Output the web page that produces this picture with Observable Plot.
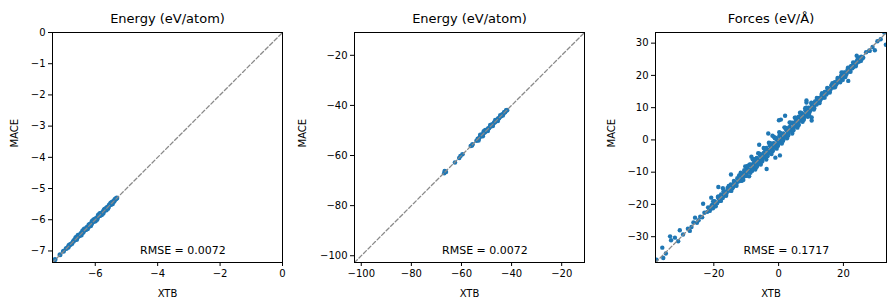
<!DOCTYPE html>
<html><head><meta charset="utf-8">
<script src="https://cdn.jsdelivr.net/npm/d3@7"></script>
<script src="https://cdn.jsdelivr.net/npm/@observablehq/plot@0.6"></script>
<style>
body{margin:0;background:#fff;}
#wrap{position:relative;width:896px;height:307px;background:#fff;}
#wrap svg{position:absolute;top:0;}
</style>
</head><body><div id="wrap"></div>
<script>
// ---------- data ----------
const panelTitles = ["Energy (eV/atom)", "Energy (eV/atom)", "Forces (eV/Å)"];
const rmseLabels = ["RMSE = 0.0072", "RMSE = 0.0072", "RMSE = 0.1717"];
const xLabel = "XTB";
const yLabel = "MACE";

const ticks1 = [-7, -6, -5, -4, -3, -2, -1, 0];
const xticks1 = [-6, -4, -2, 0];
const ticks2 = [-100, -80, -60, -40, -20];
const ticks3 = [-30, -20, -10, 0, 10, 20, 30];
const xticks3 = [-20, 0, 20];

const domain1 = [-7.37, 0];
const domain2 = [-102.7, -10.9];
const domain3 = [-38.0, 33.3];

// energy per atom (XTB, MACE)
const energyAtom = [
[-7.33,-7.34],[-7.29,-7.27],[-7.13,-7.12],[-7.02,-7.01],[-6.93,-6.92],[-6.87,-6.88],[-6.84,-6.82],[-6.80,-6.79],
[-6.75,-6.76],[-6.70,-6.69],[-6.66,-6.64],[-6.62,-6.57],[-6.60,-6.63],[-6.57,-6.55],[-6.53,-6.52],[-6.49,-6.50],
[-6.46,-6.44],[-6.42,-6.41],[-6.39,-6.40],[-6.36,-6.34],[-6.33,-6.32],[-6.30,-6.31],[-6.27,-6.25],[-6.24,-6.23],
[-6.21,-6.22],[-6.18,-6.16],[-6.15,-6.14],[-6.12,-6.13],[-6.09,-6.07],[-6.06,-6.05],[-6.03,-6.04],[-6.00,-5.98],
[-5.97,-5.96],[-5.94,-5.95],[-5.91,-5.89],[-5.88,-5.87],[-5.85,-5.86],[-5.82,-5.80],[-5.79,-5.78],[-5.76,-5.77],
[-5.73,-5.71],[-5.70,-5.69],[-5.67,-5.68],[-5.64,-5.62],[-5.61,-5.60],[-5.58,-5.59],[-5.55,-5.53],[-5.52,-5.51],
[-5.49,-5.50],[-5.46,-5.44],[-5.43,-5.42],[-5.40,-5.41],[-5.37,-5.35],[-5.34,-5.33],[-5.31,-5.30],
[-6.55,-6.50],[-6.45,-6.49],[-6.35,-6.30],[-6.25,-6.29],[-6.10,-6.05],[-6.00,-6.04],[-5.90,-5.85],[-5.80,-5.84],
[-5.70,-5.66],[-5.60,-5.64],[-6.20,-6.16],[-5.95,-5.99],[-6.40,-6.35],[-6.15,-6.19],[-5.85,-5.80],[-5.75,-5.79],
[-5.50,-5.46],[-5.45,-5.49],[-6.05,-6.00],[-5.65,-5.69]
];

// total energy (XTB, MACE)
const energyTotal = [
[-66.9,-67.1],[-66.5,-66.4],[-66.2,-66.6],[-66.7,-66.2],[-62.6,-62.8],[-60.9,-61.0],[-60.4,-60.2],[-59.6,-59.5],
[-56.3,-56.2],[-55.8,-56.0],[-55.6,-55.5],[-54.0,-54.1],[-53.5,-53.3],[-53.0,-53.2],[-52.6,-52.4],[-52.2,-52.3],
[-51.8,-51.6],[-51.4,-51.5],[-51.0,-50.8],[-50.6,-50.7],[-50.2,-50.0],[-49.8,-49.9],[-49.4,-49.2],[-49.0,-49.1],
[-48.6,-48.4],[-48.2,-48.3],[-47.8,-47.6],[-47.4,-47.5],[-47.0,-46.8],[-46.6,-46.7],[-46.2,-46.0],[-45.8,-45.9],
[-45.4,-45.2],[-45.0,-45.1],[-44.6,-44.4],[-44.2,-44.3],[-43.8,-43.6],[-43.4,-43.5],[-43.0,-42.8],[-42.6,-42.7],
[-42.2,-42.0],[-41.8,-41.9],
[-52.5,-51.7],[-51.5,-52.3],[-50.5,-49.8],[-49.5,-50.2],[-48.5,-47.8],[-47.5,-48.2],[-46.5,-45.8],[-45.5,-46.2],
[-44.5,-43.9],[-43.5,-44.0],[-53.2,-54.0],[-51.1,-50.3]
];

// forces (XTB, MACE)
const forces = [
// main band
[-22.0,-22.3],[-21.5,-21.2],[-21.0,-21.4],[-20.5,-20.1],[-20.0,-20.5],[-19.5,-19.3],[-19.0,-19.6],[-18.5,-18.1],
[-18.0,-18.4],[-17.5,-17.2],[-17.0,-17.5],[-16.5,-16.0],[-16.0,-16.4],[-15.5,-15.1],[-15.0,-15.6],[-14.5,-14.2],
[-14.0,-14.5],[-13.5,-13.0],[-13.0,-13.4],[-12.5,-12.1],[-12.0,-12.6],[-11.5,-11.0],[-11.0,-11.5],[-10.5,-10.0],
[-10.0,-10.6],[-9.5,-9.0],[-9.0,-9.5],[-8.5,-8.1],[-8.0,-8.6],[-7.5,-7.0],[-7.0,-7.4],[-6.5,-6.0],[-6.0,-6.6],
[-5.5,-5.0],[-5.0,-5.6],[-4.5,-4.0],[-4.0,-4.6],[-3.5,-3.0],[-3.0,-3.6],[-2.5,-2.0],[-2.0,-2.6],[-1.5,-1.0],
[-1.0,-1.6],[-0.5,0.0],[0.0,-0.5],[0.5,1.0],[1.0,0.4],[1.5,2.0],[2.0,1.5],[2.5,3.0],[3.0,2.4],[3.5,4.0],[4.0,3.5],
[4.5,5.0],[5.0,4.4],[5.5,6.0],[6.0,5.5],[6.5,7.0],[7.0,6.4],[7.5,8.0],[8.0,7.6],[8.5,9.0],[9.0,8.5],[9.5,9.9],
[10.0,9.6],[10.5,10.9],[11.0,10.6],[11.5,11.9],[12.0,11.6],[12.5,12.9],[13.0,12.6],[13.5,13.9],[14.0,13.6],
[14.5,14.9],[15.0,14.6],[15.5,15.9],[16.0,15.6],[16.5,16.9],[17.0,16.6],[17.5,17.9],[18.0,17.6],[18.5,18.9],
[19.0,18.6],[19.5,19.9],[20.0,19.6],[20.5,20.9],[21.0,20.5],[21.5,21.9],[22.0,21.6],[22.5,22.9],[23.0,22.5],
[23.5,23.9],[24.0,23.6],[24.5,24.9],[25.0,24.5],[25.5,25.8],[26.0,25.6],[27.0,27.2],[28.0,27.7],[29.0,28.8],
// in-between fill
[-21.75,-20.9],[-21.25,-22.0],[-20.75,-20.5],[-20.25,-21.2],[-19.75,-19.0],[-19.25,-19.7],[-18.75,-17.7],[-18.25,-18.9],
[-17.75,-16.9],[-17.25,-18.0],[-16.75,-16.4],[-16.25,-17.1],[-15.75,-14.9],[-15.25,-15.7],[-14.75,-13.8],[-14.25,-15.0],
[-13.75,-13.3],[-13.25,-14.1],[-12.75,-11.9],[-12.25,-12.8],[-11.75,-10.8],[-11.25,-12.0],[-10.75,-10.4],[-10.25,-11.2],
[-9.75,-8.8],[-9.25,-9.9],[-8.75,-7.6],[-8.25,-8.9],[-7.75,-7.2],[-7.25,-8.3],[-6.75,-5.6],[-6.25,-7.0],[-5.75,-4.7],
[-5.25,-6.1],[-4.75,-4.3],[-4.25,-5.4],[-3.75,-2.5],[-3.25,-4.1],[-2.75,-1.6],[-2.25,-3.0],[-1.75,-1.2],[-1.25,-2.4],
[-0.75,0.6],[-0.25,-1.1],[0.25,1.3],[0.75,-0.2],[1.25,1.8],[1.75,0.7],[2.25,3.4],[2.75,1.8],[3.25,3.9],[3.75,2.9],
[4.25,5.3],[4.75,4.0],[5.25,5.8],[5.75,4.8],[6.25,7.2],[6.75,6.0],[7.25,7.9],[7.75,7.0],[8.25,9.1],[8.75,8.0],
[9.25,10.0],[9.75,9.0],[10.25,11.0],[10.75,10.0],[11.25,11.9],[11.75,11.0],[12.25,12.9],[12.75,12.1],[13.25,13.9],
[13.75,13.1],[14.25,14.9],[14.75,14.1],[15.25,15.8],[15.75,15.2],[16.25,16.9],[16.75,16.2],[17.25,17.8],[17.75,17.1],
[18.25,18.8],[18.75,18.1],[19.25,19.8],[19.75,19.2],[20.25,20.8],[20.75,20.1],[21.25,21.7],[21.75,21.2],[22.25,22.8],
[22.75,22.2],[23.25,23.7],[23.75,23.2],[24.25,24.7],[24.75,24.2],[25.25,25.6],[25.75,25.2],
// wider band
[-20.2,-19.0],[-19.4,-20.6],[-18.6,-17.5],[-17.8,-18.9],[-17.0,-15.9],[-16.2,-17.3],[-15.4,-14.3],[-14.6,-15.8],
[-13.8,-12.7],[-13.0,-14.2],[-12.2,-11.0],[-11.4,-12.7],[-10.6,-9.4],[-9.8,-11.1],[-9.0,-7.7],[-8.2,-9.6],
[-7.4,-6.1],[-6.6,-8.0],[-5.8,-4.4],[-5.0,-6.5],[-4.2,-2.8],[-3.4,-4.9],[-2.6,-1.1],[-1.8,-3.3],[-1.0,0.5],
[-0.2,-1.7],[0.6,2.1],[1.4,-0.1],[2.2,3.7],[3.0,1.5],[3.8,5.2],[4.6,3.1],[5.4,6.8],[6.2,4.8],[7.0,8.3],[7.8,6.5],
[8.6,9.9],[9.4,8.2],[10.2,11.4],[11.0,9.8],[11.8,13.0],[12.6,11.4],[13.4,14.5],[14.2,13.1],[15.0,16.1],[15.8,14.7],
[16.6,17.6],[17.4,16.3],[18.2,19.2],[19.0,17.9],[19.8,20.8],[20.6,19.5],[21.4,22.4],[22.2,21.1],[23.0,24.0],
[23.8,22.8],[24.6,25.5],[25.4,24.5],
// thick middle
[-10.3,-8.2],[-9.1,-11.3],[-8.0,-6.0],[-7.2,-9.2],[-6.3,-4.1],[-5.5,-7.6],[-4.6,-2.5],[-3.8,-6.1],[-3.0,-0.9],
[-2.2,-4.4],[-1.4,0.9],[-0.6,-2.7],[0.2,2.4],[1.0,-1.1],[1.8,3.9],[2.6,0.5],[3.4,5.4],[4.2,2.0],[5.0,6.9],
[5.8,3.8],[6.6,8.4],[7.4,5.6],[8.2,9.8],[9.0,7.2],
[-11.7,-10.2],[-10.9,-12.4],[-9.6,-8.1],[-8.7,-10.2],[-7.6,-6.0],[-6.8,-8.4],[-5.9,-4.3],[-5.2,-6.8],[-4.3,-2.7],
[-3.5,-5.1],[-2.6,-1.0],[-1.9,-3.5],[-1.1,0.5],[-0.3,-1.9],[0.5,2.1],[1.3,-0.3],[2.1,3.7],[2.9,1.3],[3.7,5.3],
[4.5,2.9],[5.3,6.9],[6.1,4.5],[6.9,8.4],[7.7,6.2],[8.5,10.0],[9.3,7.8],[10.1,11.5],[10.9,9.4],
// sparse ends and outliers
[-37.7,-37.1],[-35.6,-36.6],[-35.9,-33.4],[-34.8,-35.2],[-33.5,-29.9],[-33.2,-31.1],[-32.0,-30.3],[-31.0,-31.4],
[-30.5,-28.0],[-29.5,-29.3],[-28.0,-27.5],[-27.4,-28.2],[-26.9,-27.0],[-26.3,-25.6],[-25.8,-24.1],[-25.2,-25.7],
[-24.7,-24.9],[-24.2,-23.8],[-23.6,-24.0],[-23.3,-19.8],[-22.9,-22.6],[-20.8,-17.9],[-18.6,-14.6],[-17.2,-15.0],
[-14.7,-10.7],[-8.4,-5.2],[-3.7,-9.0],[0.4,-4.8],[-1.0,-5.5],[0.7,6.3],[0.1,6.1],[-1.9,1.3],[-3.2,2.0],[-6.0,-1.5],
[2.0,7.5],[8.6,12.2],[8.6,11.6],[10.2,7.0],[10.2,6.0],[9.5,7.4],[19.4,20.9],[19.8,18.6],[21.5,18.3],[24.1,26.1],
[26.1,25.5],[28.1,27.6],[29.7,27.8],[30.5,30.6],[31.5,31.2],[32.6,33.3],[33.1,29.5]
];

// ---------- drawing ----------
const fmt = d3.format("d");
const blue = "#1f77b4";
const font = "DejaVu Sans";

function panel({data, domain, xticks, yticks, title, rmse, left, width, ml, mr, labelDx, r}) {
  const H = 307, mt = 32, mb = 45;
  const pts = data.map(([x, y]) => ({x, y}));
  const rmseX = domain[0] + 0.567 * (domain[1] - domain[0]);
  const svg = Plot.plot({
    width, height: H,
    marginLeft: ml, marginRight: mr, marginTop: mt, marginBottom: mb,
    style: {fontFamily: font, fontSize: "10px", background: "white", color: "black", overflow: "visible"},
    x: {domain},
    y: {domain},
    marks: [
      Plot.dot(pts, {x: "x", y: "y", r, fill: blue, stroke: "none", clip: true}),
      Plot.line(domain, {x: d => d, y: d => d, stroke: "#8a8a8a", strokeWidth: 1.3, strokeDasharray: "4,2.4", clip: true}),
      Plot.frame({stroke: "black", strokeWidth: 1}),
      Plot.axisX({ticks: xticks, tickFormat: fmt, tickSize: 4, tickPadding: 3, label: null, fontSize: 10}),
      Plot.axisY({ticks: yticks, tickFormat: fmt, tickSize: 4, tickPadding: 3, label: null, fontSize: 10}),
      Plot.text([title], {text: d => d, frameAnchor: "top", lineAnchor: "bottom", dy: -9.5, fontSize: 13}),
      Plot.text([xLabel], {text: d => d, frameAnchor: "bottom", lineAnchor: "bottom", dy: 34, fontSize: 10}),
      Plot.text([yLabel], {text: d => d, frameAnchor: "left", lineAnchor: "middle", rotate: -90, dx: labelDx, fontSize: 10}),
      Plot.text([rmse], {text: d => d, x: () => rmseX, frameAnchor: "bottom", lineAnchor: "bottom", dy: -9, fontSize: 11})
    ]
  });
  svg.style.left = left + "px";
  document.getElementById("wrap").appendChild(svg);
}

panel({data: energyAtom, domain: domain1, xticks: xticks1, yticks: ticks1, title: panelTitles[0], rmse: rmseLabels[0],
       left: 0, width: 298, ml: 52, mr: 16, labelDx: -37.5, r: 2.5});
panel({data: energyTotal, domain: domain2, xticks: ticks2, yticks: ticks2, title: panelTitles[1], rmse: rmseLabels[1],
       left: 298, width: 298, ml: 56, mr: 12, labelDx: -51.8, r: 2.3});
panel({data: forces, domain: domain3, xticks: xticks3, yticks: ticks3, title: panelTitles[2], rmse: rmseLabels[2],
       left: 596, width: 300, ml: 59, mr: 10, labelDx: -43.7, r: 2.2});
</script>
</body></html>
